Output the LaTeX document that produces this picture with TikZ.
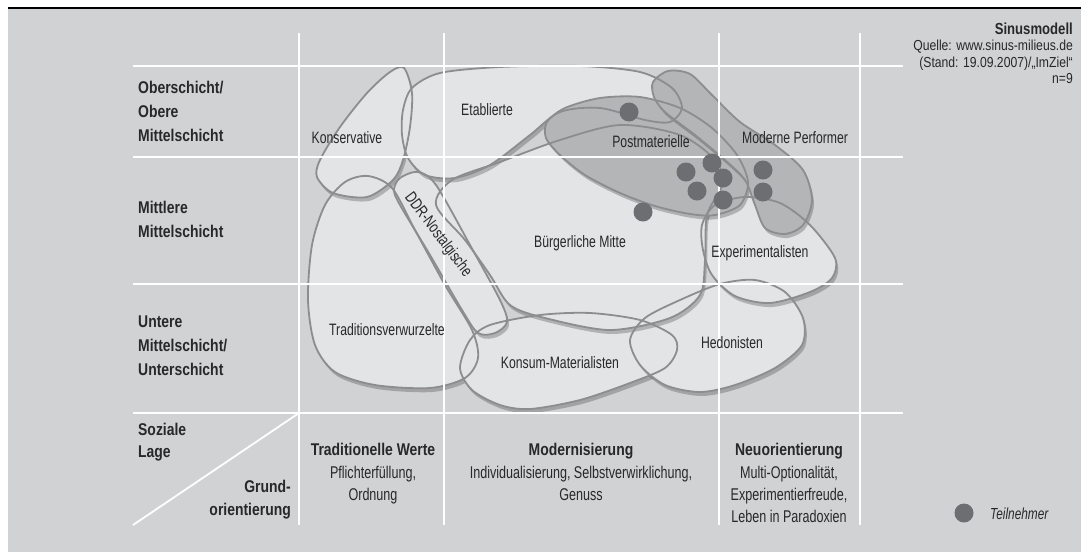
\documentclass[tikz,border=0pt]{standalone}
\usepackage{fontspec}
\setmainfont{Liberation Sans}
\newfontfamily\milfont{Liberation Sans}[FakeStretch=0.74]
\newfontfamily\headfont{Liberation Sans}[FakeStretch=0.82]
\newfontfamily\notefont{Liberation Sans}[FakeStretch=0.84]
\usetikzlibrary{shadows}
\definecolor{bggray}{RGB}{209,210,212}
\definecolor{blobfill}{RGB}{227,228,230}
\definecolor{blobdark}{RGB}{180,181,183}
\definecolor{blobline}{RGB}{140,141,143}
\definecolor{dotgray}{RGB}{109,110,113}
\definecolor{txt}{RGB}{40,40,40}

% milieu outlines (pixel coordinates, y downwards)
\newcommand{\tradPath}{plot[smooth cycle] coordinates {(308,300) (312,245) (325,205) (345,182) (368,176) (392,188) (415,230) (445,285) (472,330) (478,358) (465,378) (430,388) (375,385) (335,372) (315,345)}}
\newcommand{\konsumPath}{plot[smooth cycle] coordinates {(460,368) (470,340) (490,325) (540,315) (590,313) (640,320) (672,335) (677,350) (665,368) (630,383) (580,400) (530,409) (500,405) (472,390)}}
\newcommand{\hedoPath}{plot[smooth cycle] coordinates {(630,340) (645,318) (680,300) (720,284) (755,280) (785,292) (803,318) (802,345) (775,368) (735,385) (700,392) (665,385) (640,365)}}
\newcommand{\expePath}{plot[smooth cycle] coordinates {(702,225) (715,205) (745,197) (780,203) (810,225) (835,258) (832,278) (810,292) (770,303) (735,296) (712,275) (703,250)}}
\newcommand{\buergPath}{plot[smooth cycle] coordinates {(436,205) (452,180) (500,162) (560,140) (620,125) (680,135) (715,160) (722,185) (707,215) (705,260) (700,295) (670,318) (610,330) (545,318) (510,305) (490,275) (465,240)}}
\newcommand{\ddrPath}{plot[smooth cycle] coordinates {(394,190) (400,178) (418,172) (436,185) (470,245) (500,300) (507,322) (495,333) (478,333) (462,310) (430,255) (400,205)}}
\newcommand{\konsPath}{plot[smooth cycle] coordinates {(404,68) (412,93) (410,127) (403,160) (393,180) (367,197) (333,193) (317,177) (320,160) (340,127) (367,93) (390,72)}}
\newcommand{\etabPath}{plot[smooth cycle] coordinates {(402,135) (403,110) (412,88) (440,73) (500,67) (580,66) (640,72) (672,88) (682,108) (670,122) (645,120) (600,108) (560,112) (530,135) (490,165) (455,178) (425,175) (408,158)}}
\newcommand{\postPath}{plot[smooth cycle] coordinates {(546,138) (547,122) (565,108) (600,98) (640,97) (680,108) (712,128) (737,155) (748,182) (740,205) (715,215) (690,214) (655,206) (620,193) (585,175) (560,155)}}
\newcommand{\perfPath}{plot[smooth cycle] coordinates {(654,97) (653,82) (668,71) (690,74) (712,95) (740,122) (775,145) (803,170) (812,200) (803,225) (785,234) (765,228) (755,205) (745,180) (725,160) (695,135) (665,112)}}

\begin{document}
\begin{tikzpicture}[x=1pt, y=-1pt,
  blob/.style={fill=blobfill, drop shadow={shadow xshift=2pt, shadow yshift=-4pt, fill=black, opacity=.22}},
  dark blob/.style={fill=blobdark, drop shadow={shadow xshift=2pt, shadow yshift=-4pt, fill=black, opacity=.22}},
  rim/.style={draw=blobline, line width=1.8pt},
  gridline/.style={draw=white, line width=1.8pt},
  dot/.style={circle, fill=dotgray, minimum size=19pt, inner sep=0pt},
  milieu/.style={font=\milfont\fontsize{16.5}{20}\selectfont, text=txt, inner sep=0pt, anchor=base},
  rowlab/.style={font=\headfont\bfseries\fontsize{17}{24}\selectfont, text=txt, inner sep=0pt, anchor=base west, align=left},
  colhead/.style={font=\headfont\bfseries\fontsize{17}{22}\selectfont, text=txt, inner sep=0pt, anchor=base},
  colsub/.style={font=\milfont\fontsize{17}{22}\selectfont, text=txt, inner sep=0pt, anchor=base, align=center},
  source/.style={font=\notefont\fontsize{14.5}{16}\selectfont, text=txt, inner sep=0pt, anchor=base east}]
\useasboundingbox (0,0) rectangle (1081,552);
\fill[bggray] (8,9) rectangle (1081,552);
\draw[line width=2.5pt] (8,8) -- (1081,8);

% milieus
\path[blob] \tradPath;
\path[blob] \konsumPath;
\path[blob] \hedoPath;
\path[blob] \expePath;
\path[blob] \buergPath;
\path[blob] \ddrPath;
\path[blob] \konsPath;
\path[blob] \etabPath;
\path[dark blob] \postPath;
\path[dark blob] \perfPath;
\foreach \p in {\tradPath,\konsumPath,\hedoPath,\expePath,\buergPath,\ddrPath,\konsPath,\etabPath,\postPath,\perfPath}
  \path[rim] \p;

% grid
\foreach \y in {66,157,284,413}
  \path[gridline] (133,\y) -- (903,\y);
\foreach \x in {299,444,719,860}
  \path[gridline] (\x,33) -- (\x,525);
\path[gridline] (299,413) -- (133,525);

% participants
\foreach \x/\y [count=\i] in {629/112,643/212,686/172,712/163,723/178,697/191,723/200,763/170,763/192}
  \node[dot] (p\i) at (\x,\y) {};

\node[milieu] (kons) at (347,143) {Konservative};
\node[milieu] (etab) at (487,115) {Etablierte};
\node[milieu] (post) at (651,147) {Postmaterielle};
\node[milieu] (perf) at (795,143) {Moderne Performer};
\node[milieu] (buerg) at (580,247) {Bürgerliche Mitte};
\node[milieu] (expe) at (760,257) {Experimentalisten};
\node[milieu] (trad) at (387,335) {Traditionsverwurzelte};
\node[milieu] (konsum) at (560,368) {Konsum-Materialisten};
\node[milieu] (hedo) at (732,348) {Hedonisten};
\node[milieu, anchor=center, rotate=-53] (ddr) at (438,235) {DDR-Nostalgische};

% axes (multi-line nodes sit on their last baseline)
\node[rowlab] (ober) at (138,141) {Oberschicht/\\Obere\\Mittelschicht};
\node[rowlab] (mitte) at (138,237) {Mittlere\\Mittelschicht};
\node[rowlab] (unter) at (138,375) {Untere\\Mittelschicht/\\Unterschicht};
\node[rowlab, font=\headfont\bfseries\fontsize{17}{22}\selectfont] (lage) at (138,457) {Soziale\\Lage};
\node[rowlab, anchor=base east, align=right, font=\headfont\bfseries\fontsize{17}{23}\selectfont] (grund) at (291,515) {Grund-\\orientierung};
\node[colhead] (werte) at (373,455) {Traditionelle Werte};
\node[colsub] (wertesub) at (373,500) {Pflichterfüllung,\\Ordnung};
\node[colhead] (modern) at (581,455) {Modernisierung};
\node[colsub] (modernsub) at (581,500) {Individualisierung, Selbstverwirklichung,\\Genuss};
\node[colhead] (neu) at (789,455) {Neuorientierung};
\node[colsub] (neusub) at (789,522) {Multi-Optionalität,\\Experimentierfreude,\\Leben in Paradoxien};

% source and legend
\node[source, font=\headfont\bfseries\fontsize{16}{16}\selectfont] (modell) at (1073,34) {Sinusmodell};
\node[source] (quelle) at (1073,50) {Quelle: www.sinus-milieus.de};
\node[source] (stand) at (1073,67) {(Stand: 19.09.2007)/„ImZiel“};
\node[source] (anzahl) at (1073,83) {n=9};
\node[dot] (legdot) at (964,513) {};
\node[milieu, anchor=base west, font=\milfont\itshape\fontsize{16}{20}\selectfont] (legend) at (990,519) {Teilnehmer};
\end{tikzpicture}
\end{document}
